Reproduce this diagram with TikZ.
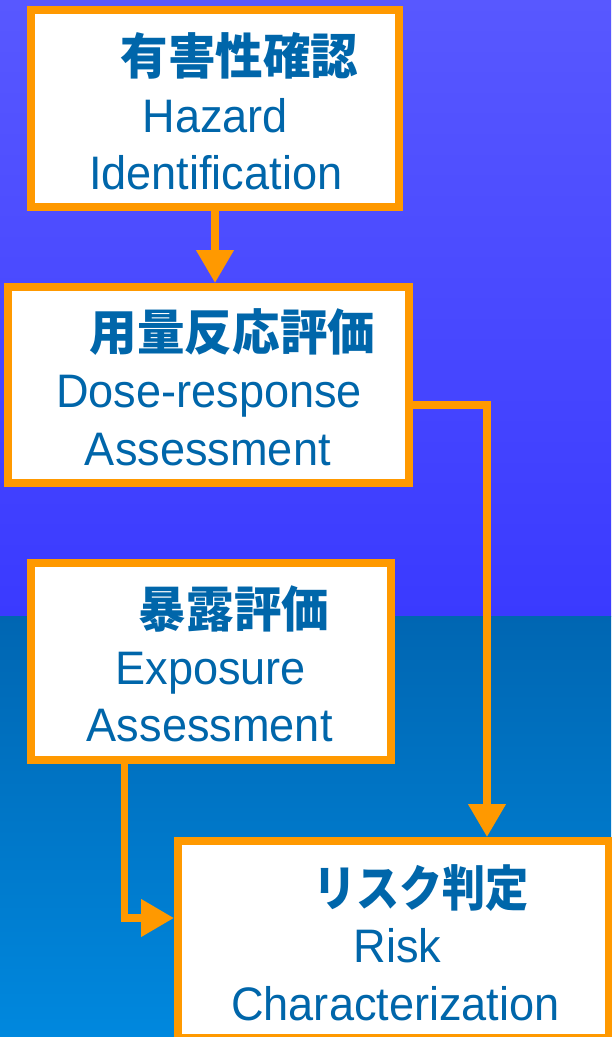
\documentclass[tikz,border=0pt]{standalone}
\usepackage{fontspec}
\setmainfont{Liberation Sans}[FakeStretch=0.96]
\newfontfamily\jpfont{Noto Sans CJK JP}[FakeStretch=0.97]
\newfontfamily\jpfontN{Noto Sans CJK JP}[FakeStretch=0.88]
\usetikzlibrary{arrows.meta}
\definecolor{orng}{HTML}{FF9900}
\definecolor{txtblue}{HTML}{0066AA}
\definecolor{bgA}{HTML}{5858FF}
\definecolor{bgB}{HTML}{3A3AFF}
\definecolor{bgC}{HTML}{0066B2}
\definecolor{bgD}{HTML}{0088DE}
\begin{document}
\begin{tikzpicture}[x=1pt,y=-1pt,
  box/.style={draw=orng, line width=8pt, fill=white, rectangle, inner sep=0pt},
  conn/.style={draw=orng, line width=7.5pt, -{Triangle[length=33pt,width=36pt]}, line join=miter},
  en/.style={text=txtblue, font=\fontsize{47}{56}\selectfont, inner sep=0pt, anchor=base},
  jp/.style={text=txtblue, font=\jpfont\bfseries\fontsize{49}{56}\selectfont, inner sep=0pt, anchor=center},
  jpn/.style={text=txtblue, font=\jpfontN\bfseries\fontsize{49}{56}\selectfont, inner sep=0pt, anchor=center}]
\useasboundingbox (0,0) rectangle (611,1037);
\shade[top color=bgA, bottom color=bgB] (0,0) rectangle (611,616);
\shade[top color=bgC, bottom color=bgD] (0,616) rectangle (611,1037);

% boxes
\node[box, minimum width=368pt, minimum height=197pt] (b1) at (215,108.5) {};
\node[box, minimum width=401.5pt, minimum height=196pt] (b2) at (208.25,385) {};
\node[box, minimum width=359.5pt, minimum height=197pt] (b3) at (210.75,661.5) {};
\node[box, minimum width=431pt, minimum height=197pt] (b4) at (393.5,939.5) {};

% connectors
\coordinate (c2) at (487,405);
\coordinate (c3) at (124.3,918);
\draw[conn] (b1.south) -- (b1.south |- b2.north);
\draw[conn] (b2.east |- c2) -- (c2) -- (c2 |- b4.north);
\draw[conn] (b3.south -| c3) -- (c3) -- (b4.west |- c3);

% texts
\node[jp] (t1a) at (239.5,55.5) {有害性確認};
\node[en] (t1b) at (215.3,132) {Hazard};
\node[en] (t1c) at (215.7,189.3) {Identification};

\node[jp] (t2a) at (232.5,332) {用量反応評価};
\node[en] (t2b) at (209,407.3) {Dose-response};
\node[en] (t2c) at (207.8,465) {Assessment};

\node[jp] (t3a) at (234,608.7) {暴露評価};
\node[en] (t3b) at (210.7,684) {Exposure};
\node[en] (t3c) at (209.7,741.7) {Assessment};

\node[jpn] (t4a) at (421,888) {リスク判定};
\node[en] (t4b) at (397.5,962.7) {Risk};
\node[en] (t4c) at (395.5,1020) {Characterization};
\end{tikzpicture}
\end{document}
